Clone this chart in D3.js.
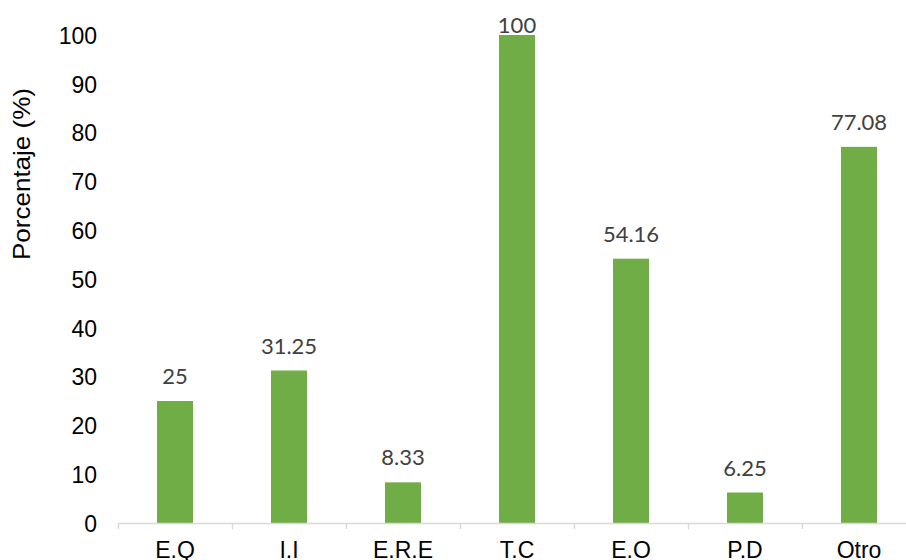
<!DOCTYPE html>
<html>
<head>
<meta charset="utf-8">
<script src="https://cdn.jsdelivr.net/npm/d3@7/dist/d3.min.js"></script>
<style>
  html, body { margin: 0; padding: 0; background: #fff; }
  svg { display: block; }
</style>
</head>
<body>
<svg id="chart" width="906" height="560"></svg>
<script>
// Categories and percentage values
const categories = ["E.Q", "I.I", "E.R.E", "T.C", "E.O", "P.D", "Otro"];
const values = [25, 31.25, 8.33, 100, 54.16, 6.25, 77.08];
const valueLabels = ["25", "31.25", "8.33", "100", "54.16", "6.25", "77.08"];
const yTicks = [0, 10, 20, 30, 40, 50, 60, 70, 80, 90, 100];
const yTitle = "Porcentaje (%)";

const svg = d3.select("#chart");
const plotLeft = 118, bandW = 114;
const plotTop = 35, plotBottom = 523;

const x = d3.scaleBand()
  .domain(categories)
  .range([plotLeft, plotLeft + bandW * categories.length])
  .paddingInner(0)
  .paddingOuter(0);

const y = d3.scaleLinear().domain([0, 100]).range([plotBottom, plotTop]);

const barW = 36;

// Bars
svg.append("g").selectAll("rect")
  .data(categories)
  .join("rect")
  .attr("x", (d) => x(d) + x.bandwidth() / 2 - barW / 2)
  .attr("y", (d, i) => y(values[i]))
  .attr("width", barW)
  .attr("height", (d, i) => y(0) - y(values[i]))
  .attr("fill", "#70ad47");

// Value labels above bars
svg.append("g").selectAll("text")
  .data(categories)
  .join("text")
  .attr("x", (d) => x(d) + x.bandwidth() / 2)
  .attr("y", (d, i) => Math.max(y(values[i]) - 17, 33))
  .attr("text-anchor", "middle")
  .attr("font-family", "Lato, 'Open Sans', sans-serif")
  .attr("font-size", 22)
  .attr("fill", "#404040")
  .text((d, i) => valueLabels[i]);

// Y axis (labels only)
const yAxis = d3.axisLeft(y).tickValues(yTicks).tickSize(0).tickPadding(0).tickFormat(d3.format("d"));
const gy = svg.append("g").attr("transform", "translate(97,0)").call(yAxis);
gy.select(".domain").remove();
gy.selectAll("text")
  .attr("font-family", "'Liberation Sans', Arial, sans-serif")
  .attr("font-size", 23)
  .attr("fill", "#000")
  .attr("dy", "0.36em");

// X axis line and category ticks
svg.append("line")
  .attr("x1", plotLeft).attr("x2", 906)
  .attr("y1", plotBottom + 0.5).attr("y2", plotBottom + 0.5)
  .attr("stroke", "#d9d9d9").attr("stroke-width", 1.5);

const tickXs = categories.map((d) => x(d));
svg.append("g").selectAll("line")
  .data(tickXs)
  .join("line")
  .attr("x1", (d) => Math.round(d) + 0.5)
  .attr("x2", (d) => Math.round(d) + 0.5)
  .attr("y1", plotBottom)
  .attr("y2", plotBottom + 6)
  .attr("stroke", "#d9d9d9").attr("stroke-width", 1.5);

svg.append("g").selectAll("text")
  .data(categories)
  .join("text")
  .attr("x", (d) => x(d) + x.bandwidth() / 2)
  .attr("y", 558)
  .attr("text-anchor", "middle")
  .attr("font-family", "'Liberation Sans', Arial, sans-serif")
  .attr("font-size", 23)
  .attr("fill", "#000")
  .text((d) => d);

// Y axis title
svg.append("text")
  .attr("transform", "translate(30,174) rotate(-90)")
  .attr("text-anchor", "middle")
  .attr("font-family", "'Liberation Sans', Arial, sans-serif")
  .attr("font-size", 24)
  .attr("textLength", 172)
  .attr("lengthAdjust", "spacingAndGlyphs")
  .attr("fill", "#000")
  .text(yTitle);
</script>
</body>
</html>
